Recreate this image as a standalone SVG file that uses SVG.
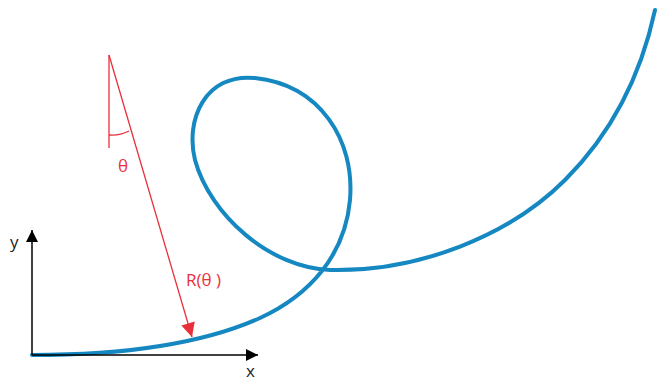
<svg xmlns="http://www.w3.org/2000/svg" width="658" height="381" viewBox="0 0 658 381">
<style>
.curve{fill:none;stroke:#1588c2;stroke-width:4;stroke-linecap:round}
.red{fill:none;stroke:#e8303a;stroke-width:1.3}
.ax{fill:none;stroke:#000;stroke-width:1.5}
.lbl{font-family:"Open Sans","DejaVu Sans",sans-serif;font-size:17px}
</style>
<defs>
<marker id="ah" viewBox="0 0 10 10" refX="10" refY="5" markerWidth="14" markerHeight="12" markerUnits="userSpaceOnUse" orient="auto"><path d="M0,0 L10,5 L0,10 Z" fill="#000"/></marker>
<marker id="rh" viewBox="0 0 10 10" refX="10" refY="5" markerWidth="22" markerHeight="14" markerUnits="userSpaceOnUse" orient="auto"><path d="M0,0 L10,5 L0,10 Z" fill="#e8303a"/></marker>
</defs>
<rect width="658" height="381" fill="#fff"/>
<g id="curve">
<path class="curve" d="M32,355 C 120,355 200,345 260,318 C 310,295 345,255 350,200 C 355,140 320,85 255,78 C 205,73 185,120 195,160 C 210,215 270,268 330,270 C 420,272 510,235 565,180 C 610,135 640,80 655,10"/>
</g>
<g id="axes">
<line class="ax" x1="32" y1="355" x2="32" y2="230" marker-end="url(#ah)"/>
<line class="ax" x1="32" y1="355" x2="258" y2="355" marker-end="url(#ah)"/>
<text class="lbl" x="10" y="248" fill="#222">y</text>
<text class="lbl" x="246" y="377" fill="#222">x</text>
</g>
<g id="radius">
<line class="red" x1="109" y1="55" x2="109" y2="148"/>
<line class="red" x1="109" y1="55" x2="192" y2="337" marker-end="url(#rh)"/>
<path class="red" d="M109,135 Q119,136 129,131"/>
<text class="lbl" x="118" y="172" fill="#e8303a">θ</text>
<text class="lbl" x="186" y="286" fill="#e8303a">R(θ )</text>
</g>
</svg>
